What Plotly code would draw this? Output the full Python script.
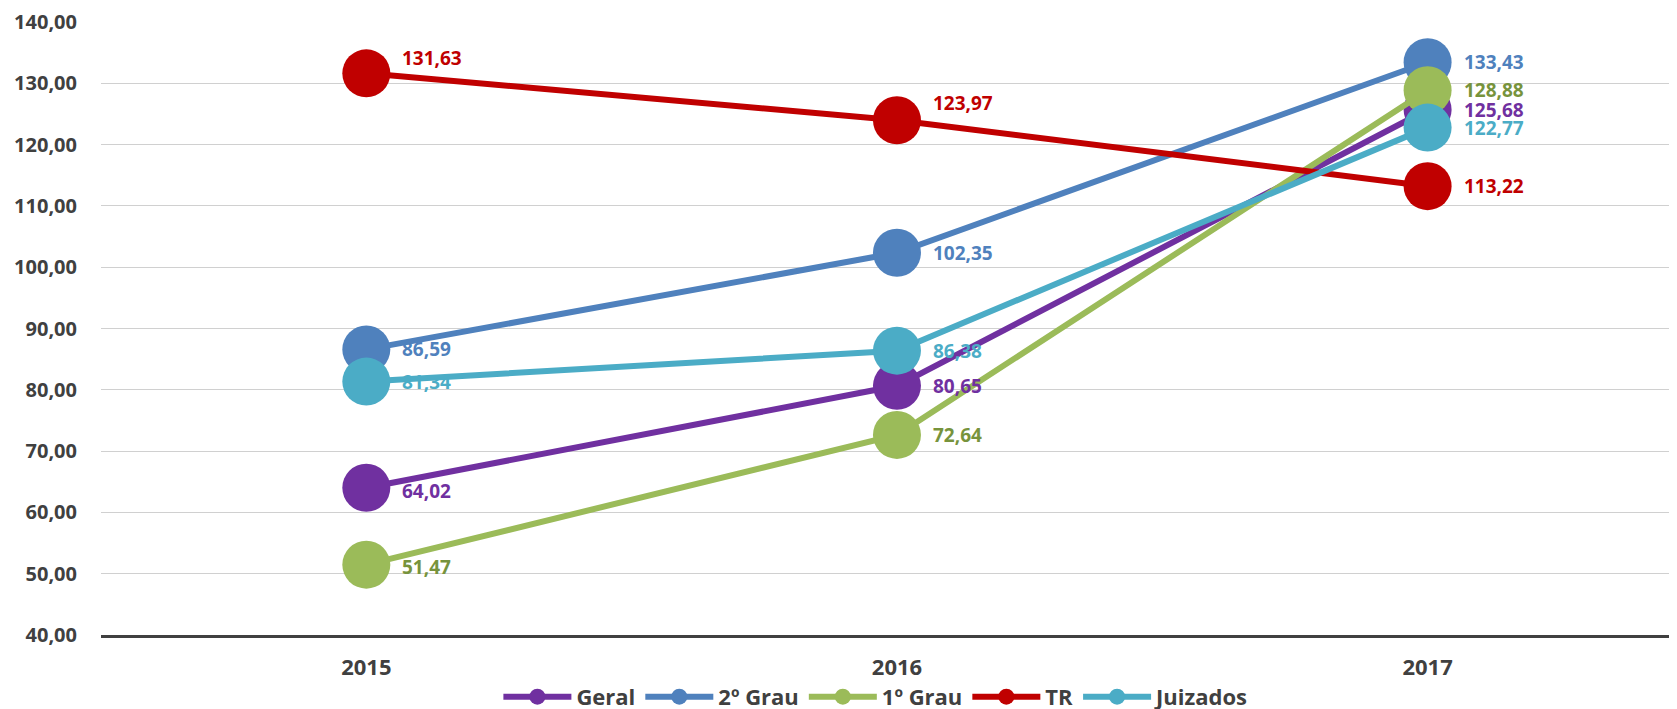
import plotly.graph_objects as go

years = ["2015", "2016", "2017"]
series_names = ["Geral", "2º Grau", "1º Grau", "TR", "Juizados"]
geral = [64.02, 80.65, 125.68]
grau2 = [86.59, 102.35, 133.43]
grau1 = [51.47, 72.64, 128.88]
tr = [131.63, 123.97, 113.22]
juizados = [81.34, 86.38, 122.77]
y_ticks = [40, 50, 60, 70, 80, 90, 100, 110, 120, 130, 140]

series_values = [geral, grau2, grau1, tr, juizados]
line_colors = ["#7030A0", "#4F81BD", "#9BBB59", "#C00000", "#4BACC6"]
label_colors = ["#7030A0", "#4F81BD", "#77933C", "#C00000", "#4BACC6"]
# vertical pixel shift of each data label (per series, per point)
label_yshift = [
    [-3, 0, 0],
    [0, 0, 0],
    [-2, 0, 0],
    [15, 17, 0],
    [0, 0, 0],
]

FONT = "Open Sans"
fig = go.Figure()
for name, vals, lc in zip(series_names, series_values, line_colors):
    fig.add_trace(go.Scatter(
        x=years, y=vals, name=name, mode="lines+markers",
        line=dict(color=lc, width=6),
        marker=dict(color=lc, size=48),
        cliponaxis=False,
    ))

annotations = []
for vals, col, shifts in zip(series_values, label_colors, label_yshift):
    for i, (v, s) in enumerate(zip(vals, shifts)):
        annotations.append(dict(
            x=i, y=v, xref="x", yref="y",
            text=f"{v:.2f}".replace(".", ","),
            showarrow=False, xanchor="left", yanchor="middle",
            xshift=34, yshift=s,
            font=dict(family=FONT, size=19, color=col, weight="bold"),
        ))

# page body has an 8px margin; figure is sized to fit the 1677x709 window
fig.update_layout(
    width=1669, height=701,
    margin=dict(l=93, r=0, t=14, b=74, autoexpand=False),
    paper_bgcolor="white", plot_bgcolor="white",
    separators=",.",
    showlegend=True,
    legend=dict(
        orientation="h", x=0.492, xanchor="center", y=-0.101, yanchor="middle",
        font=dict(family=FONT, size=22, color="#404040", weight="bold"),
        itemwidth=68, bgcolor="rgba(0,0,0,0)",
    ),
    annotations=annotations,
    xaxis=dict(
        type="category", range=[-0.5, 2.47],
        showgrid=False, showline=True, linecolor="#404040", linewidth=3,
        ticks="", ticklabelstandoff=11,
        tickfont=dict(family=FONT, size=22, color="#404040", weight="bold"),
        zeroline=False,
    ),
    yaxis=dict(
        range=[40, 140], tickvals=y_ticks, tickformat=".2f",
        showgrid=True, gridcolor="#d0d0d0", gridwidth=1,
        showline=False, zeroline=False, ticks="", ticklabelstandoff=23,
        tickfont=dict(family=FONT, size=20, color="#404040", weight="bold"),
    ),
)

fig.write_html("out.html")
